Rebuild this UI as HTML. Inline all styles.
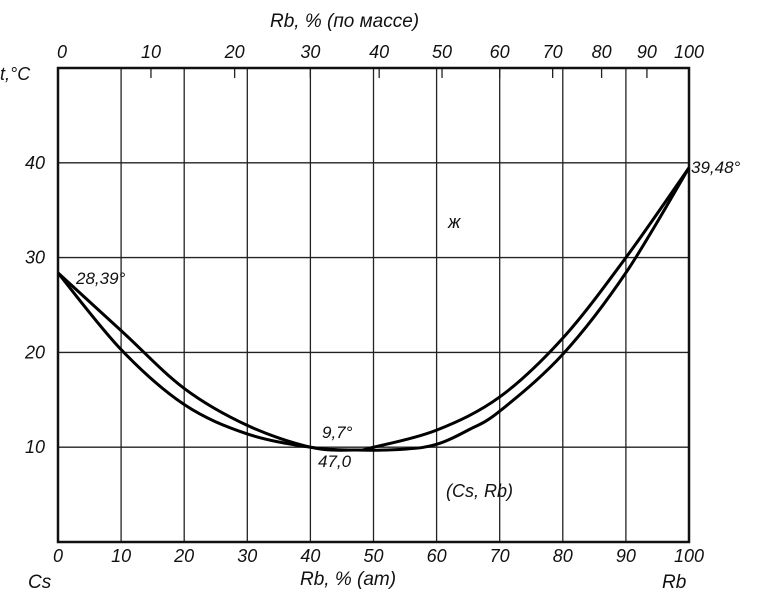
<!DOCTYPE html>
<html><head><meta charset="utf-8"><style>
body{margin:0;background:#fff}
svg text{font-family:"Liberation Sans",sans-serif;font-style:italic;fill:#111}
</style></head><body>
<svg id="chart" width="768" height="609" viewBox="0 0 768 609" xmlns="http://www.w3.org/2000/svg">
<g id="grid"></g>
<g id="axes"></g>
<g id="curves"></g>
<text x="0" y="80" font-size="18">t,°C</text>
<text x="270" y="27" font-size="19">Rb, % (по массе)</text>
<text x="300" y="585" font-size="19">Rb, % (ат)</text>
<text x="28" y="588" font-size="19">Cs</text>
<text x="662" y="588" font-size="19">Rb</text>
<text x="76" y="284" font-size="17">28,39°</text>
<text x="691" y="173" font-size="17">39,48°</text>
<text x="322" y="438" font-size="17">9,7°</text>
<text x="318" y="467" font-size="17">47,0</text>
<text x="448" y="228" font-size="18">ж</text>
<text x="446" y="497" font-size="18">(Cs, Rb)</text>
</svg>
<script>
const atTicks=[0,10,20,30,40,50,60,70,80,90,100];
const massTicks=[0,10,20,30,40,50,60,70,80,90,100];
const tTicks=[10,20,30,40];
const liqX=[0,10,20,30,40,47,50,60,70,80,90,100];
const liqT=[28.39,22.3,16.2,12.3,10.0,9.7,10.0,11.8,15.3,21.5,30.0,39.48];
const solX=[0,10,20,30,40,47,55,60,65,70,80,90,100];
const solT=[28.39,20.3,14.5,11.4,10.0,9.7,9.8,10.3,11.8,13.8,19.8,28.4,39.48];
const L=58,R=689,B=542,T0=68;
const X=v=>L+(R-L)*v/100;
const Y=v=>B-(B-T0)*v/50;
const massToAt=m=>{const a=m/85.47,c=(100-m)/132.9;return m>=100?100:100*a/(a+c);};
const NS="http://www.w3.org/2000/svg";
function mk(tag,attrs,parent){const e=document.createElementNS(NS,tag);for(const k in attrs)e.setAttribute(k,attrs[k]);document.getElementById(parent).appendChild(e);return e;}
atTicks.forEach(v=>{
  if(v>0&&v<100){const l=mk('line',{x1:X(v),x2:X(v),y1:T0,y2:B,stroke:'#222','stroke-width':1.3},'grid');
  
  }
  const t=mk('text',{x:X(v),y:562,'font-size':18,'text-anchor':'middle'},'axes');t.textContent=v;
  
  
});
massTicks.forEach(v=>{
  const x=X(massToAt(v));
  if(v>0&&v<100){const l=mk('line',{x1:x,x2:x,y1:T0,y2:T0+10,stroke:'#222','stroke-width':1.3},'axes');
  
  }
  const t=mk('text',{x:x+(v==0?4:0),y:58,'font-size':18,'text-anchor':'middle'},'axes');t.textContent=v;
  
  
});
tTicks.forEach(v=>{
  const l=mk('line',{x1:L,x2:R,y1:Y(v),y2:Y(v),stroke:'#222','stroke-width':1.4},'grid');
  
  
  const t=mk('text',{x:45,y:Y(v)+6,'font-size':18,'text-anchor':'end'},'axes');t.textContent=v;
  
  
});
const f=mk('rect',{x:L,y:T0,width:R-L,height:B-T0,fill:'none',stroke:'#111','stroke-width':2.5},'axes');


function smooth(xs,ys){const p=xs.map((x,i)=>[X(x),Y(ys[i])]);let d=`M${p[0][0]},${p[0][1]}`;
  for(let i=0;i<p.length-1;i++){const p0=p[i-1]||p[i],p1=p[i],p2=p[i+1],p3=p[i+2]||p2;
  d+=` C${p1[0]+(p2[0]-p0[0])/6},${p1[1]+(p2[1]-p0[1])/6} ${p2[0]-(p3[0]-p1[0])/6},${p2[1]-(p3[1]-p1[1])/6} ${p2[0]},${p2[1]}`;}return d;}
const lq=mk('path',{d:smooth(liqX,liqT),fill:'none',stroke:'#000','stroke-width':3},'curves');


const sl=mk('path',{d:smooth(solX,solT),fill:'none',stroke:'#000','stroke-width':3},'curves');


</script>
</body></html>
